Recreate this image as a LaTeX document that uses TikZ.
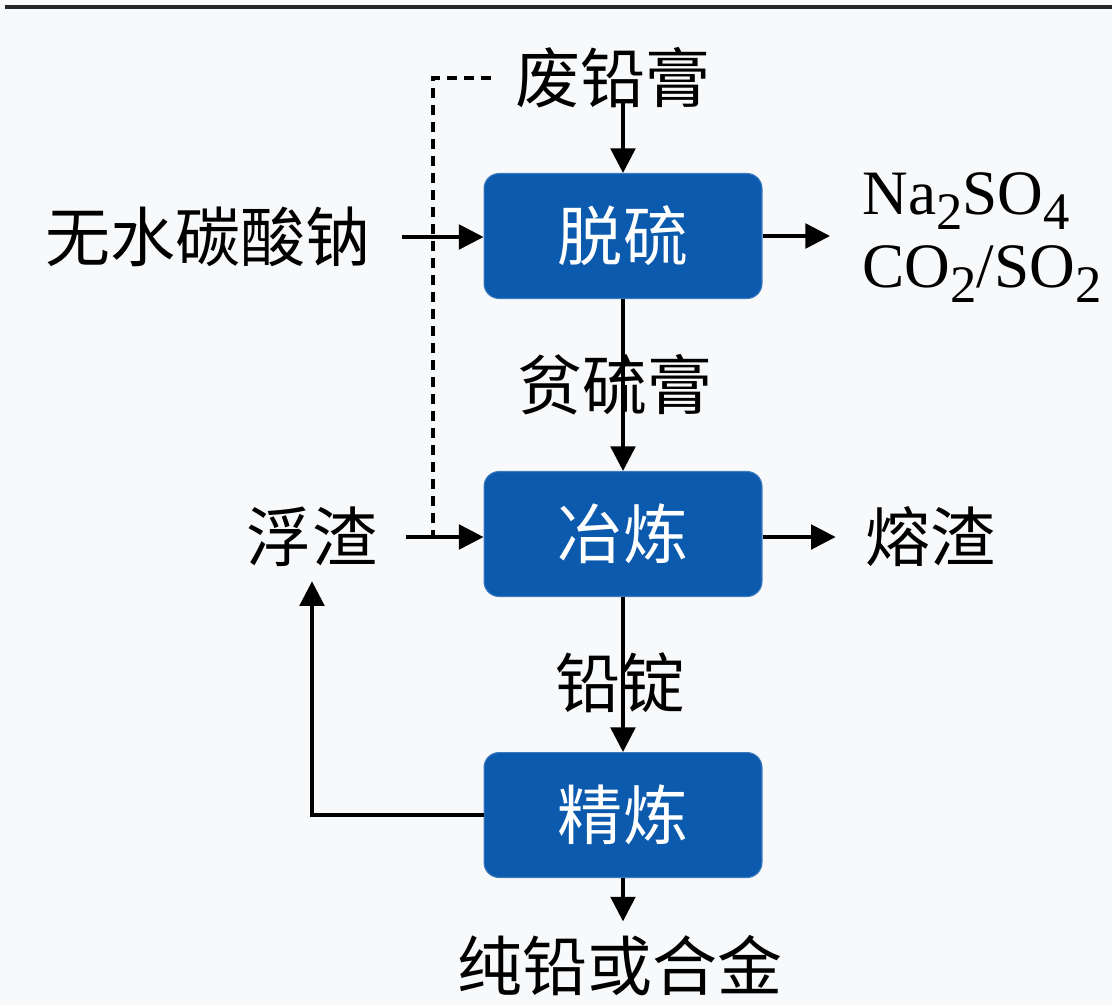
\documentclass[tikz,border=0pt]{standalone}
\usepackage{fontspec}
\setmainfont{Liberation Serif}
\newfontfamily\cjk{Noto Sans CJK SC}
\usetikzlibrary{arrows.meta}

\definecolor{boxblue}{RGB}{11,90,174}
\definecolor{bgcol}{RGB}{248,249,251}

% 下標
\newcommand{\sub}[1]{\raisebox{-9pt}{\fontsize{30}{30}\selectfont #1}}

\tikzset{
  box/.style={fill=boxblue, draw=boxblue!80!white, line width=0.6pt, rounded corners=0.3cm,
    minimum width=5.56cm, minimum height=2.5cm, text=white, font=\cjk\fontsize{37}{40}\selectfont},
  txt/.style={inner sep=8pt, font=\cjk\fontsize{37}{40}\selectfont},
  chem/.style={anchor=base west, inner sep=0pt, font=\fontsize{36}{40}\selectfont},
  flow/.style={line width=2pt, -{Triangle[length=14pt,width=14pt]}},
}

\begin{document}
\begin{tikzpicture}[x=0.02cm, y=-0.02cm]
    % 背景與頂線
    \fill[bgcol] (0,0) rectangle (1112,1005);
    \useasboundingbox (0,0) rectangle (1112,1005);
    \draw[line width=0.08cm, black!85] (5,7) -- (1112,7);

    % 定義方塊
    \node[box] (S) at (623,236) {脱硫};
    \node[box] (M) at (623,534) {冶炼};
    \node[box] (R) at (623,815) {精炼};

    % 文字
    \node[txt] (W) at (613,78) {废铅膏};
    \node[txt] (N) at (208,237) {无水碳酸钠};
    \node[txt] (P) at (615,385) {贫硫膏};
    \node[txt] (F) at (312,537) {浮渣};
    \node[txt] (Z) at (930,537) {熔渣};
    \node[txt] (D) at (620,683) {铅锭};
    \node[txt] (C) at (620,966) {纯铅或合金};
    \node[chem] (G1) at (862,214) {Na\sub{2}SO\sub{4}};
    \node[chem] (G2) at (862,287) {CO\sub{2}/SO\sub{2}};
    \coordinate (J) at (433,537);

    % 畫出箭頭
    \draw[flow, shorten <=-0.4cm] (S.north |- W.south) -- (S.north);
    \draw[flow, shorten <=0.35cm] (N.east) -- (N.east -| S.west);
    \draw[flow, shorten >=0.64cm] (S.east) -- (S.east -| G1.west);
    \draw[flow] (S) -- (M);
    \draw[flow, shorten <=0.3cm] (F.east) -- (F.east -| M.west);
    \draw[flow, shorten >=0.3cm] (M.east |- Z.west) -- (Z.west);
    \draw[flow] (M) -- (R);
    \draw[flow] (R.south) -- (R.south |- C.north);
    \draw[flow] (R.west) -| (F.south);

    % 虛線
    \draw[line width=2pt, dash pattern=on 0.2cm off 0.14cm] ([xshift=-0.2cm]W.west) -| (J);
\end{tikzpicture}
\end{document}
